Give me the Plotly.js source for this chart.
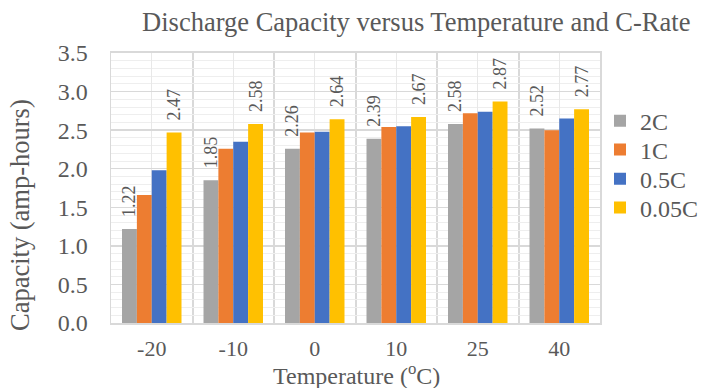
<!DOCTYPE html>
<html>
<head>
<meta charset="utf-8">
<script src="https://cdn.plot.ly/plotly-3.0.1.min.js"></script>
<style>html,body{margin:0;padding:0;background:#fff;}#chart{width:702px;height:388px;}</style>
</head>
<body>
<div id="chart"></div>
<script>
const temperatures = ['-20', '-10', '0', '10', '25', '40'];
const rate2C = [1.22, 1.85, 2.26, 2.39, 2.58, 2.52];
const rate1C = [1.66, 2.26, 2.47, 2.54, 2.72, 2.50];
const rate05C = [1.98, 2.35, 2.48, 2.55, 2.74, 2.65];
const rate005C = [2.47, 2.58, 2.64, 2.67, 2.87, 2.77];
const seriesNames = ['2C', '1C', '0.5C', '0.05C'];
const seriesColors = ['#A5A5A5', '#ED7D31', '#4472C4', '#FFC000'];
const labelled = [true, false, false, true];

const idx = temperatures.map((t, i) => i);
const FONT = 'Liberation Serif';
const TXT = '#595959';
const allSeries = [rate2C, rate1C, rate05C, rate005C];
const legendIds = ['legend', 'legend2', 'legend3', 'legend4'];
const legendY = [0.748, 0.641, 0.533, 0.426];

const traces = allSeries.map((vals, k) => {
  const tr = {
    type: 'bar',
    name: seriesNames[k],
    x: idx,
    y: vals,
    legend: legendIds[k],
    marker: {color: seriesColors[k], line: {width: 0}},
    hoverinfo: 'skip'
  };
  if (labelled[k]) {
    tr.text = vals.map(v => '\u00A0\u00A0' + v.toFixed(2));
    tr.textposition = 'outside';
    tr.textangle = -90;
    tr.constraintext = 'none';
    tr.cliponaxis = false;
    tr.textfont = {family: FONT, size: 18, color: TXT};
  }
  return tr;
});

const layout = {
  width: 702, height: 388,
  margin: {l: 111, r: 102, t: 53, b: 65, autoexpand: false},
  paper_bgcolor: '#ffffff',
  plot_bgcolor: '#ffffff',
  font: {family: FONT, color: TXT},
  barmode: 'group',
  bargap: 0.27,
  bargroupgap: 0,
  title: {
    text: 'Discharge Capacity versus Temperature and C-Rate',
    font: {family: FONT, size: 26.5, color: TXT},
    x: 0.593, xref: 'container', xanchor: 'center',
    y: 0.945, yref: 'container', yanchor: 'middle'
  },
  xaxis: {
    range: [-0.5, 5.5],
    tickmode: 'array',
    tickvals: idx,
    ticktext: temperatures,
    ticks: '',
    ticklabelstandoff: 5,
    tickfont: {family: FONT, size: 22, color: TXT},
    showgrid: true,
    gridcolor: '#e8e8e8',
    gridwidth: 1,
    minor: {tickmode: 'linear', tick0: -0.5, dtick: 1, showgrid: true, gridcolor: '#d9d9d9', gridwidth: 2, ticks: ''},
    showline: true, linecolor: '#d9d9d9', linewidth: 2, mirror: true,
    zeroline: false,
    fixedrange: true
  },
  yaxis: {
    range: [0, 3.5],
    tickmode: 'linear', tick0: 0, dtick: 0.5,
    tickformat: '.1f',
    ticks: '',
    ticklabelstandoff: 17,
    tickfont: {family: FONT, size: 24, color: TXT},
    showgrid: true,
    gridcolor: '#d9d9d9',
    gridwidth: 1.5,
    minor: {tickmode: 'linear', tick0: 0, dtick: 0.1, showgrid: true, gridcolor: '#eeeeee', gridwidth: 1, ticks: ''},
    showline: true, linecolor: '#d9d9d9', linewidth: 1.5, mirror: true,
    zeroline: false,
    fixedrange: true
  },
  annotations: [
    {text: 'Capacity (amp-hours)', xref: 'paper', yref: 'paper', x: -0.186, y: 0.4,
     xanchor: 'center', yanchor: 'middle', textangle: -90, showarrow: false,
     font: {family: FONT, size: 26.5, color: TXT}},
    {text: 'Temperature (<sup>o</sup>C)', xref: 'paper', yref: 'paper', x: 0.503, y: -0.19,
     xanchor: 'center', yanchor: 'middle', showarrow: false,
     font: {family: FONT, size: 24, color: TXT}}
  ],
  showlegend: true
};

legendIds.forEach((id, k) => {
  layout[id] = {
    x: 1.0, xanchor: 'left',
    y: legendY[k], yanchor: 'middle',
    font: {family: FONT, size: 24, color: TXT},
    itemwidth: 30,
    borderwidth: 0,
    bgcolor: 'rgba(0,0,0,0)'
  };
});

Plotly.newPlot('chart', traces, layout, {displayModeBar: false, staticPlot: true});
</script>
</body>
</html>
